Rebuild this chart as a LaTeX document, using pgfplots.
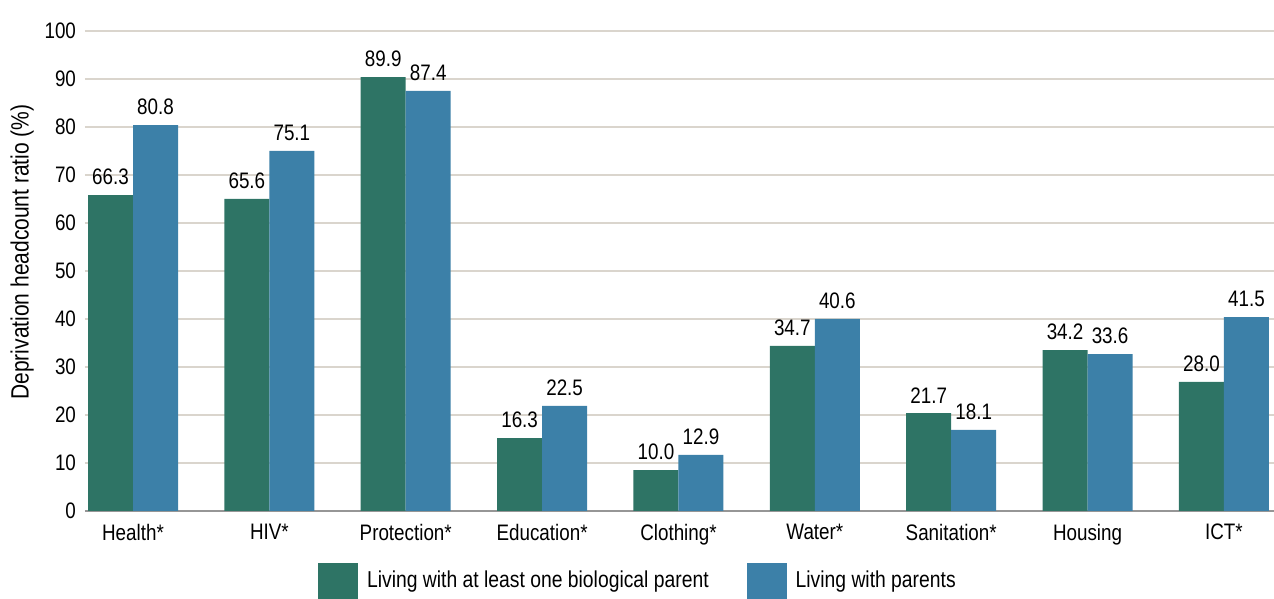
\documentclass[border=0pt]{standalone}
\usepackage{pgfplots}
\pgfplotsset{compat=1.18}
\usepackage{pgfplotstable}
\usepackage{fontspec}
\setmainfont{Liberation Sans}[FakeStretch=0.84]
\definecolor{cgreen}{RGB}{46,116,101}
\definecolor{cblue}{RGB}{60,128,168}
\definecolor{cgrid}{RGB}{218,213,205}
\definecolor{caxis}{RGB}{150,150,150}
\pgfplotstableread{
x y label
0 65.8 66.3
1 65.0 65.6
2 90.4 89.9
3 15.2 16.3
4 8.5 10.0
5 34.4 34.7
6 20.4 21.7
7 33.5 34.2
8 26.9 28.0
}\greentab
\pgfplotstableread{
x y label
0 80.4 80.8
1 75.0 75.1
2 87.5 87.4
3 21.9 22.5
4 11.7 12.9
5 40.0 40.6
6 16.9 18.1
7 32.7 33.6
8 40.4 41.5
}\bluetab
\begin{document}
\begin{tikzpicture}
\useasboundingbox (-42.5pt,-44pt) rectangle (594.5pt,255.5pt);
\begin{axis}[
  scale only axis,
  width=594.5pt, height=240pt,
  xmin=-0.352, xmax=8.367,
  ymin=0, ymax=100,
  ybar=0pt, bar width=22.5pt,
  axis line style={draw=none},
  extra y ticks={0},
  extra y tick style={grid style={caxis, line width=1.2pt}, yticklabels={}},
  ytick={0,10,...,100},
  ymajorgrids, grid style={cgrid, line width=1pt},
  major tick length=0pt,
  xtick=data,
  xticklabels={Health*,HIV*,Protection*,Education*,Clothing*,Water*,Sanitation*,Housing,ICT*},
  tick label style={font=\fontsize{11.2}{13}\selectfont, text=black},
  /pgf/number format/assume math mode=true,
  yticklabel style={xshift=-1pt},
  xticklabel style={yshift=-3pt},
  ylabel={Deprivation headcount ratio (\%)},
  ylabel style={font=\fontsize{12.5}{14}\selectfont, yshift=-1.5pt, xshift=9.5pt},
  point meta=explicit symbolic,
  nodes near coords={\pgfplotspointmeta},
  nodes near coords style={font=\fontsize{11.2}{13}\selectfont, text=black, yshift=1.5pt},
  legend style={at={(0.4659,-0.146)}, anchor=center, draw=none, fill=none,
    legend columns=2, font=\fontsize{11.5}{13}\selectfont,
    /tikz/every odd column/.append style={column sep=2.5pt},
    /tikz/every even column/.append style={column sep=17pt}},
  legend image code/.code={\fill[#1] (0pt,-9pt) rectangle (20pt,9pt);},
  clip=false,
]
\addplot[fill=cgreen, draw=none] table[x=x, y=y, meta=label] {\greentab};
\addlegendentry{Living with at least one biological parent}
\addplot[fill=cblue, draw=none] table[x=x, y=y, meta=label] {\bluetab};
\addlegendentry{Living with parents}
\end{axis}
\end{tikzpicture}
\end{document}
